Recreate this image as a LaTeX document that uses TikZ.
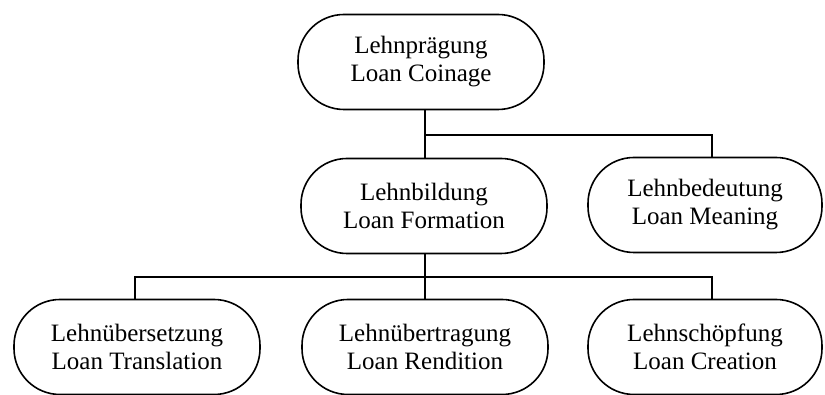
\documentclass[tikz,border=0pt]{standalone}
\usepackage{fontspec}
\setmainfont{Liberation Serif}
\usepackage{tikz}

\begin{document}
\begin{tikzpicture}[x=1pt,y=1pt]
		\tikzset{term/.style = {draw, line width=0.8pt, rounded corners=23pt,
			minimum width=123pt, minimum height=47.5pt, align=center,
			font=\fontsize{12.5}{14}\selectfont}}
		\tikzset{link/.style = {line width=0.8pt}}
		\useasboundingbox (0,0) rectangle (412.5,197.5);
		\node[term] (C) at (210.5,166.5){Lehnprägung\\Loan Coinage};
		\node[term] (F) at (212,94.5){Lehnbildung\\Loan Formation};
		\node[term, minimum width=117pt] (M) at (352.5,95){Lehnbedeutung\\Loan Meaning};
		\node[term] (T) at (68.5,24){Lehnübersetzung\\Loan Translation};
		\node[term] (R) at (212.5,24){Lehnübertragung\\Loan Rendition};
		\node[term, minimum width=117pt] (S) at (352.5,24){Lehnschöpfung\\Loan Creation};
		\coordinate (J1) at (212.5,130);
		\coordinate (J2) at (212.5,59);
		\draw[link] (C.south -| J1) -- (F.north -| J1);
		\draw[link] (J1) -| ([xshift=3.5pt]M.north);
		\draw[link] (F.south -| J2) -- (R.north -| J2);
		\draw[link] (J2) -| ([xshift=-1pt]T.north);
		\draw[link] (J2) -| ([xshift=3.5pt]S.north);
	\end{tikzpicture}
\end{document}
